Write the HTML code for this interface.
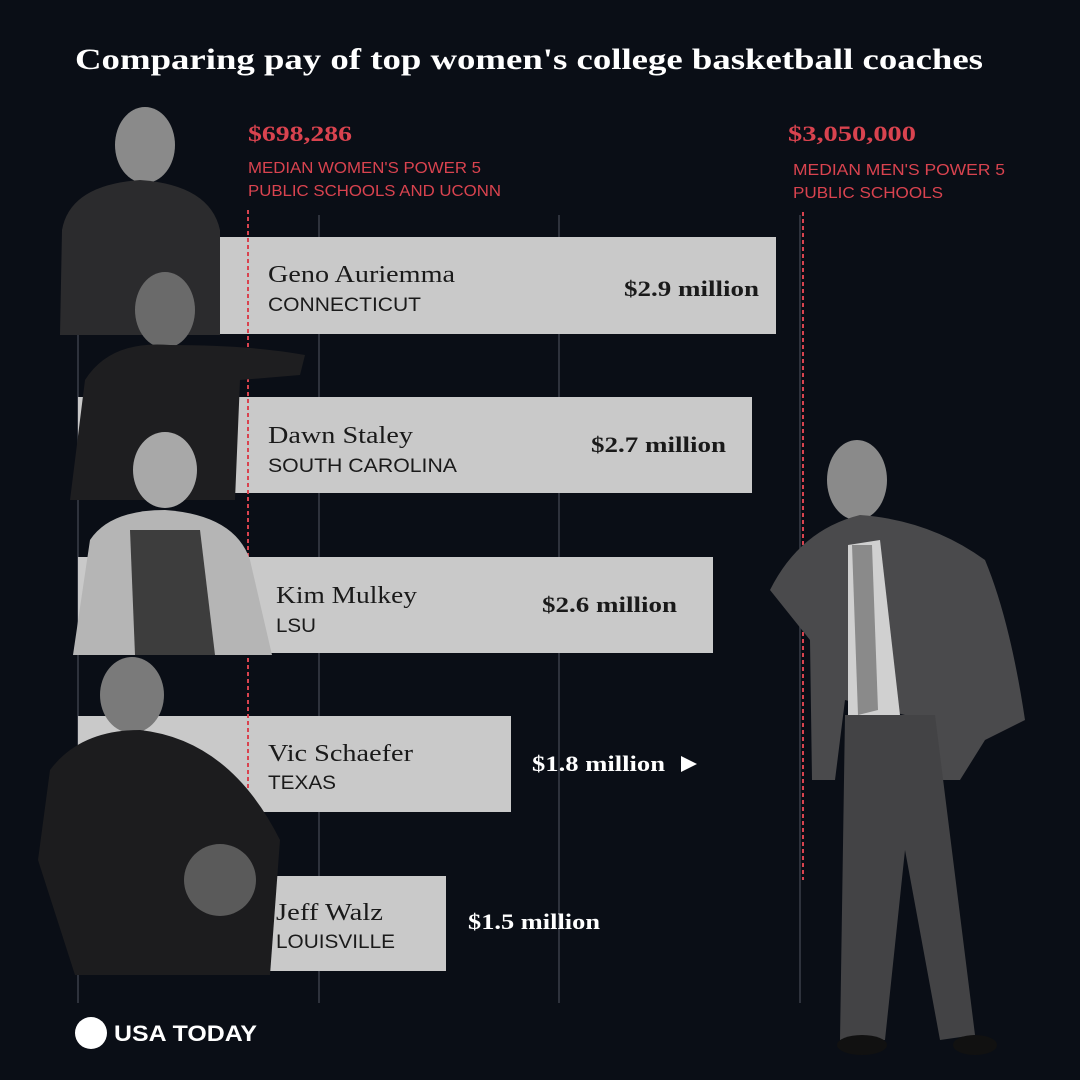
<!DOCTYPE html>
<html><head><style>
body{margin:0;background:#0a0e16;}
svg{display:block}
</style></head><body>
<svg width="1080" height="1080" viewBox="0 0 1080 1080" xmlns="http://www.w3.org/2000/svg">
<rect width="1080" height="1080" fill="#0a0e16"/>
<text x="75" y="69" font-family="Liberation Serif, serif" font-weight="bold" font-size="30" fill="#fff" textLength="908" lengthAdjust="spacingAndGlyphs">Comparing pay of top women's college basketball coaches</text>
<g stroke="#3a3f48" stroke-width="1.5">
<line x1="78" y1="215" x2="78" y2="1003"/>
<line x1="319" y1="215" x2="319" y2="1003"/>
<line x1="559" y1="215" x2="559" y2="1003"/>
<line x1="800" y1="215" x2="800" y2="1003"/>
</g>
<g fill="#c9c9c9">
<rect x="78" y="237" width="698" height="97"/>
<rect x="78" y="397" width="674" height="96"/>
<rect x="78" y="557" width="635" height="96"/>
<rect x="78" y="716" width="433" height="96"/>
<rect x="78" y="876" width="368" height="95"/>
</g>
<g stroke="#d9434f" stroke-width="2" stroke-dasharray="4,3">
<line x1="248" y1="210" x2="248" y2="972"/>
<line x1="803" y1="212" x2="803" y2="880"/>
</g>
<g font-family="Liberation Serif, serif" font-weight="bold" font-size="22" fill="#d9434f">
<text x="248" y="141" textLength="104" lengthAdjust="spacingAndGlyphs">$698,286</text>
<text x="788" y="141" textLength="128" lengthAdjust="spacingAndGlyphs">$3,050,000</text>
</g>
<g font-family="Liberation Sans, sans-serif" font-size="16" fill="#d9434f">
<text x="248" y="173" textLength="233" lengthAdjust="spacingAndGlyphs">MEDIAN WOMEN'S POWER 5</text>
<text x="248" y="196" textLength="253" lengthAdjust="spacingAndGlyphs">PUBLIC SCHOOLS AND UCONN</text>
<text x="793" y="175" textLength="212" lengthAdjust="spacingAndGlyphs">MEDIAN MEN'S POWER 5</text>
<text x="793" y="198" textLength="150" lengthAdjust="spacingAndGlyphs">PUBLIC SCHOOLS</text>
</g>
<g>
<ellipse cx="145" cy="145" rx="30" ry="38" fill="#8a8a8a"/>
<path d="M62 230 Q70 185 140 180 Q210 185 220 230 L220 335 L60 335 Z" fill="#2b2b2d"/>
<ellipse cx="165" cy="310" rx="30" ry="38" fill="#6a6a6a"/>
<path d="M85 380 Q110 340 170 345 Q250 345 305 355 L300 375 L240 380 L235 500 L70 500 Z" fill="#1e1e20"/>
<ellipse cx="165" cy="470" rx="32" ry="38" fill="#a8a8a8"/>
<path d="M90 540 Q110 510 165 510 Q235 515 250 560 L272 655 L73 655 Z" fill="#b5b5b5"/>
<path d="M130 530 L200 530 L215 655 L135 655 Z" fill="#3d3d3d"/>
<ellipse cx="132" cy="695" rx="32" ry="38" fill="#7a7a7a"/>
<path d="M50 770 Q80 730 140 730 Q230 740 280 840 L270 975 L75 975 L38 860 Z" fill="#1c1c1e"/>
<circle cx="220" cy="880" r="36" fill="#5a5a5a"/>
<ellipse cx="857" cy="480" rx="30" ry="40" fill="#8a8a8a"/>
<path d="M770 590 Q800 530 860 515 Q930 520 985 560 Q1010 620 1025 720 L985 740 L960 780 L930 780 L905 715 L845 700 L835 780 L812 780 L810 640 Z" fill="#4a4a4c"/>
<path d="M848 545 L880 540 L900 715 L848 715 Z" fill="#d0d0d0"/>
<path d="M852 545 L872 545 L878 710 L858 715 Z" fill="#8a8a8a"/>
<path d="M845 715 L935 715 L975 1035 L940 1040 L905 850 L885 1040 L840 1040 Z" fill="#434345"/>
<ellipse cx="862" cy="1045" rx="25" ry="10" fill="#111"/>
<ellipse cx="975" cy="1045" rx="22" ry="10" fill="#111"/>
</g>
<g font-family="Liberation Serif, serif" font-size="24" fill="#1a1a1a">
<text x="268" y="282" textLength="187" lengthAdjust="spacingAndGlyphs">Geno Auriemma</text>
<text x="268" y="443" textLength="145" lengthAdjust="spacingAndGlyphs">Dawn Staley</text>
<text x="276" y="603" textLength="141" lengthAdjust="spacingAndGlyphs">Kim Mulkey</text>
<text x="268" y="761" textLength="145" lengthAdjust="spacingAndGlyphs">Vic Schaefer</text>
<text x="276" y="920" textLength="107" lengthAdjust="spacingAndGlyphs">Jeff Walz</text>
</g>
<g font-family="Liberation Sans, sans-serif" font-size="19" fill="#1a1a1a">
<text x="268" y="311" textLength="153" lengthAdjust="spacingAndGlyphs">CONNECTICUT</text>
<text x="268" y="472" textLength="189" lengthAdjust="spacingAndGlyphs">SOUTH CAROLINA</text>
<text x="276" y="632" textLength="40" lengthAdjust="spacingAndGlyphs">LSU</text>
<text x="268" y="789" textLength="68" lengthAdjust="spacingAndGlyphs">TEXAS</text>
<text x="276" y="948" textLength="119" lengthAdjust="spacingAndGlyphs">LOUISVILLE</text>
</g>
<g font-family="Liberation Serif, serif" font-weight="bold" font-size="22">
<text x="624" y="296" fill="#1a1a1a" textLength="135" lengthAdjust="spacingAndGlyphs">$2.9 million</text>
<text x="591" y="452" fill="#1a1a1a" textLength="135" lengthAdjust="spacingAndGlyphs">$2.7 million</text>
<text x="542" y="612" fill="#1a1a1a" textLength="135" lengthAdjust="spacingAndGlyphs">$2.6 million</text>
<text x="532" y="771" fill="#fff" textLength="133" lengthAdjust="spacingAndGlyphs">$1.8 million</text>
<text x="468" y="929" fill="#fff" textLength="132" lengthAdjust="spacingAndGlyphs">$1.5 million</text>
</g>
<polygon points="681,756 697,764 681,772" fill="#fff"/>
<circle cx="91" cy="1033" r="16" fill="#fff"/>
<text x="114" y="1041" font-family="Liberation Sans, sans-serif" font-weight="bold" font-size="22" fill="#fff" textLength="143" lengthAdjust="spacingAndGlyphs">USA TODAY</text>
</svg>
</body></html>
